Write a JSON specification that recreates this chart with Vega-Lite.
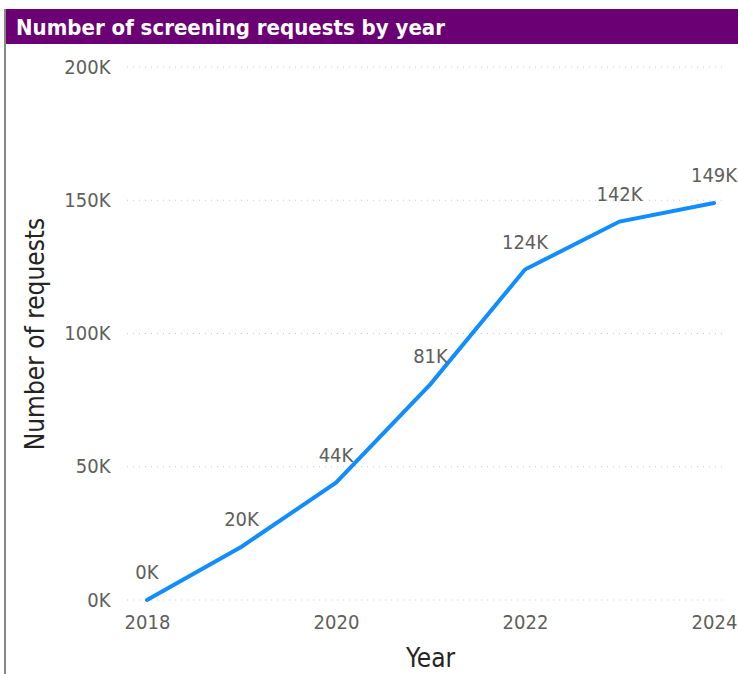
{
  "$schema": "https://vega.github.io/schema/vega-lite/v6.json",
  "background": "white",
  "padding": {"left": 4, "top": 9, "right": 0, "bottom": 0},
  "config": {
    "font": "DejaVu Sans Condensed"
  },
  "hconcat": [
    {
      "width": 2,
      "height": 670,
      "view": {"fill": "#8A8886", "stroke": null},
      "data": {"values": [{"pos": 0}]},
      "mark": {"type": "rect", "opacity": 0},
      "encoding": {}
    },
    {
      "spacing": 13,
      "vconcat": [
        {
          "width": 732,
          "height": 35,
          "view": {"fill": "#6B0074", "stroke": null},
          "data": {"values": [{"pos": 0, "title": "Number of screening requests by year"}]},
          "mark": {"type": "text", "align": "left", "baseline": "middle", "dx": 10, "dy": 1, "color": "white", "fontSize": 22, "fontWeight": "bold", "font": "DejaVu Sans Condensed"},
          "encoding": {
            "x": {"field": "pos", "type": "quantitative", "scale": {"domain": [0, 1]}, "axis": null},
            "text": {"field": "title", "type": "nominal"}
          }
        },
        {
          "width": 720,
          "height": 533,
          "view": {"stroke": null},
          "encoding": {
            "y": {"field": "requests", "type": "quantitative", "title": "Number of requests",
              "scale": {"domain": [0, 200000], "nice": false},
              "axis": {"values": [0, 50000, 100000, 150000, 200000], "labelExpr": "format(datum.value/1000, '.0f') + 'K'",
                "grid": false, "offset": -121,
                "domain": false, "ticks": false, "labelFontSize": 20, "labelColor": "#605E5C", "labelPadding": 17,
                "titleFontSize": 26, "titleFontWeight": "normal", "titleColor": "#252423", "titlePadding": 15}}
          },
          "layer": [
            {
              "data": {"values": [
                {"requests": 0}, {"requests": 50000}, {"requests": 100000}, {"requests": 150000}, {"requests": 200000}
              ]},
              "mark": {"type": "rule", "color": "#C8C6C4", "strokeDash": [1, 5], "strokeWidth": 1.2},
              "encoding": {
                "x": {"datum": 2017.788, "type": "quantitative"},
                "x2": {"datum": 2024.116}
              }
            },
            {
              "data": {"values": [
                {"year": 2018, "requests": 0},
                {"year": 2019, "requests": 20000},
                {"year": 2020, "requests": 44000},
                {"year": 2021, "requests": 81000},
                {"year": 2022, "requests": 124000},
                {"year": 2023, "requests": 142000},
                {"year": 2024, "requests": 149000}
              ]},
              "transform": [{"calculate": "format(datum.requests/1000, '.0f') + 'K'", "as": "label"}],
              "encoding": {
                "x": {"field": "year", "type": "quantitative", "title": "Year",
                  "scale": {"domain": [2016.508, 2024.127], "nice": false, "zero": false},
                  "axis": {"values": [2018, 2020, 2022, 2024], "format": "d", "grid": false, "domain": false, "ticks": false,
                    "labelFontSize": 20, "labelColor": "#605E5C", "labelPadding": 12, "labelFlush": false,
                    "titleFontSize": 26, "titleFontWeight": "normal", "titleColor": "#252423", "titlePadding": 13, "titleX": 424}}
              },
              "layer": [
                {"mark": {"type": "line", "color": "#118DFF", "strokeWidth": 4, "strokeCap": "round"}},
                {"mark": {"type": "text", "dy": -27, "baseline": "middle", "fontSize": 20, "color": "#605E5C"},
                 "encoding": {"text": {"field": "label", "type": "nominal"}}}
              ]
            }
          ]
        }
      ]
    }
  ],
  "spacing": 0
}
